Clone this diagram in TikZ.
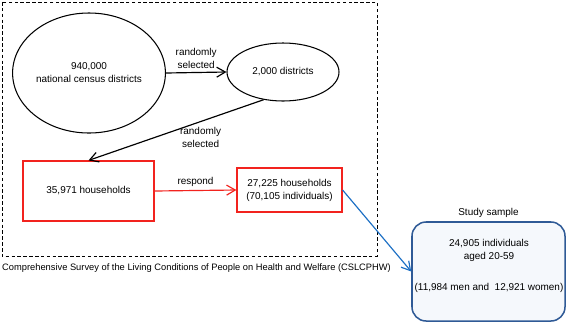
\documentclass[tikz,border=0pt]{standalone}
\usepackage{fontspec}
\setmainfont{Liberation Sans}
\usetikzlibrary{arrows.meta, positioning, shapes.geometric}
\definecolor{boxred}{HTML}{F2231E}
\definecolor{arrowblue}{HTML}{1C6FC4}
\definecolor{navy}{HTML}{2F5A96}
\definecolor{paleblue}{HTML}{F5F8FC}

\begin{document}
\begin{tikzpicture}[x=0.03cm, y=-0.03cm,
  font=\fontsize{8.5}{11}\selectfont,
  >={Straight Barb[length=2.6mm, width=3mm, line width=1pt]},
  oval/.style 2 args={
    ellipse, draw, line width=0.9pt, align=center, inner sep=1pt,
    minimum width=#1, minimum height=#2
  },
  redbox/.style 2 args={
    draw=boxred, line width=1pt, align=center,
    minimum width=#1, minimum height=#2
  },
  flow/.style={->, line width=1pt},
  lbl/.style={align=center, inner sep=1pt}]

% Frame of the picture
\useasboundingbox (0,0) rectangle (567,323);

% Survey area (dashed)
\draw[line width=0.8pt, dash pattern=on 3pt off 2pt] (2,2) rectangle (377,256);

% --- Sampling stages ---
\node[oval={3.96cm}{3.6cm}] (census) at (89,73)
  {940,000\\national census districts};
\node[oval={3.36cm}{1.74cm}] (districts) at (283,72)
  {2,000 districts};
\node[redbox={3.93cm}{1.8cm}] (households) at (88.5,191)
  {35,971 households};
\node[redbox={3.15cm}{1.32cm}] (responders) at (289.5,190)
  {27,225 households\\(70,105 individuals)};

% Caption of the survey
\node[anchor=west, inner sep=0pt, font=\fontsize{7.95}{9}\selectfont] (caption) at (2,268)
  {Comprehensive Survey of the Living Conditions of People on Health and Welfare (CSLCPHW)};

% --- Study sample ---
\node[draw=navy, fill=paleblue, line width=1.3pt, rounded corners=12pt,
      minimum width=4.59cm, minimum height=2.97cm] (sample) at (488.5,271.5) {};
\node[align=center] (sampletxt) at (489,266)
  {24,905 individuals\\aged 20-59\\[15pt](11,984 men and\ \ 12,921 women)};
\node[above=0pt of sample] (samplelbl) {Study sample};

% --- Connectors ---
\draw[flow] (census.east) -- node[lbl, above=2pt] {randomly\\selected} (districts.west);
\draw[flow] (districts.235) -- node[lbl, pos=0.42, anchor=north west, xshift=-10pt] {randomly\\selected} (households.north);
\draw[flow, boxred] (households.east) -- node[lbl, above=2pt, text=black] {respond} (responders.west);
\draw[flow, arrowblue] (responders.east) -- (sample.west);

\end{tikzpicture}
\end{document}
